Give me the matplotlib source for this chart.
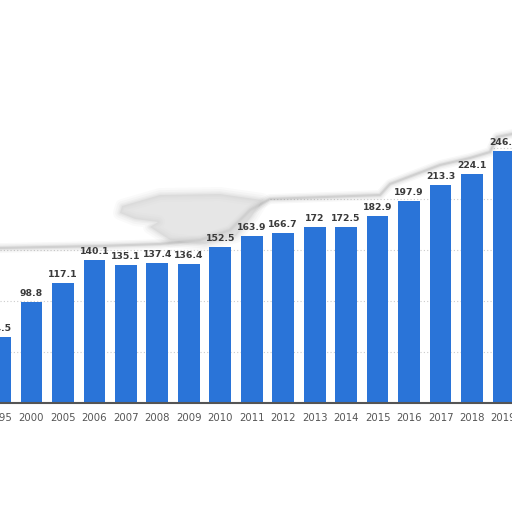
import numpy as np
import matplotlib.pyplot as plt
from matplotlib.patches import Polygon

years = ['1995', '2000', '2005', '2006', '2007', '2008', '2009', '2010', '2011',
         '2012', '2013', '2014', '2015', '2016', '2017', '2018', '2019']
values = [64.5, 98.8, 117.1, 140.1, 135.1, 137.4, 136.4, 152.5, 163.9,
          166.7, 172, 172.5, 182.9, 197.9, 213.3, 224.1, 246.4]
labels = ['64.5', '98.8', '117.1', '140.1', '135.1', '137.4', '136.4', '152.5', '163.9',
          '166.7', '172', '172.5', '182.9', '197.9', '213.3', '224.1', '246.4']

fig = plt.figure(figsize=(5.12, 5.12), dpi=100)
ax = fig.add_axes([0, 0.213, 1, 0.598])

x = np.arange(len(years))
ax.bar(x, values, width=0.69, color='#2a74d8', zorder=2)
for xi, v, lab in zip(x, values, labels):
    ax.text(xi, v + 4, lab, ha='center', va='bottom', fontsize=6.7,
            fontweight='bold', color='#3a3a3a', zorder=4)

ax.set_xlim(0.216, 16.27)
ax.set_ylim(0, 300)
ax.set_xticks(x)
ax.set_xticklabels(years, fontsize=7.3, color='#555555')
ax.tick_params(axis='x', length=0, pad=7.5)
ax.set_yticks([50, 100, 150, 200, 250])
ax.tick_params(axis='y', length=0, labelleft=False)
ax.grid(axis='y', linestyle=(0, (1, 2)), color='#cccccc', linewidth=0.8, zorder=0)
ax.set_axisbelow(True)
for s in ['top', 'left', 'right']:
    ax.spines[s].set_visible(False)
ax.spines['bottom'].set_color('#555555')
ax.spines['bottom'].set_linewidth(1.5)
ax.spines['bottom'].set_zorder(3)

# torn paper overlay in pixel coords (from top)
edge = [(0, 248), (100, 246), (160, 244), (200, 240), (230, 230), (250, 210),
        (270, 199), (380, 195), (390, 184), (440, 165), (470, 158), (490, 152),
        (497, 137), (512, 134)]
def fig_xy(pts):
    return [(px / 512, 1 - py / 512) for px, py in pts]

cover = fig_xy([(0, -5)] + edge + [(520, 134), (520, -5)])
ax.add_patch(Polygon(cover, closed=True, facecolor='white', edgecolor='none',
                     transform=fig.transFigure, clip_on=False, zorder=1.5))
ex, ey = zip(*fig_xy(edge))
for lw, a in [(7, 0.06), (5, 0.08), (3, 0.12), (1.5, 0.2)]:
    ax.plot(ex, ey, color='#888888', lw=lw, alpha=a, transform=fig.transFigure,
            clip_on=False, zorder=1.6, solid_capstyle='round')

blob = [(122, 206), (160, 195), (220, 194), (262, 200), (252, 216), (236, 236),
        (205, 244), (170, 240), (150, 227), (158, 222), (135, 219), (120, 213)]
for lw, a in [(10, 0.05), (7, 0.06), (4, 0.08), (2, 0.08)]:
    ax.add_patch(Polygon(fig_xy(blob), closed=True, facecolor='none', edgecolor='#a0a0a0',
                         lw=lw, alpha=a, transform=fig.transFigure, clip_on=False,
                         zorder=1.6, joinstyle='round'))
ax.add_patch(Polygon(fig_xy(blob), closed=True, facecolor='#d2d2d2', edgecolor='none',
                     alpha=0.55, transform=fig.transFigure, clip_on=False, zorder=1.6))

fig.savefig('out.png', dpi=100)
